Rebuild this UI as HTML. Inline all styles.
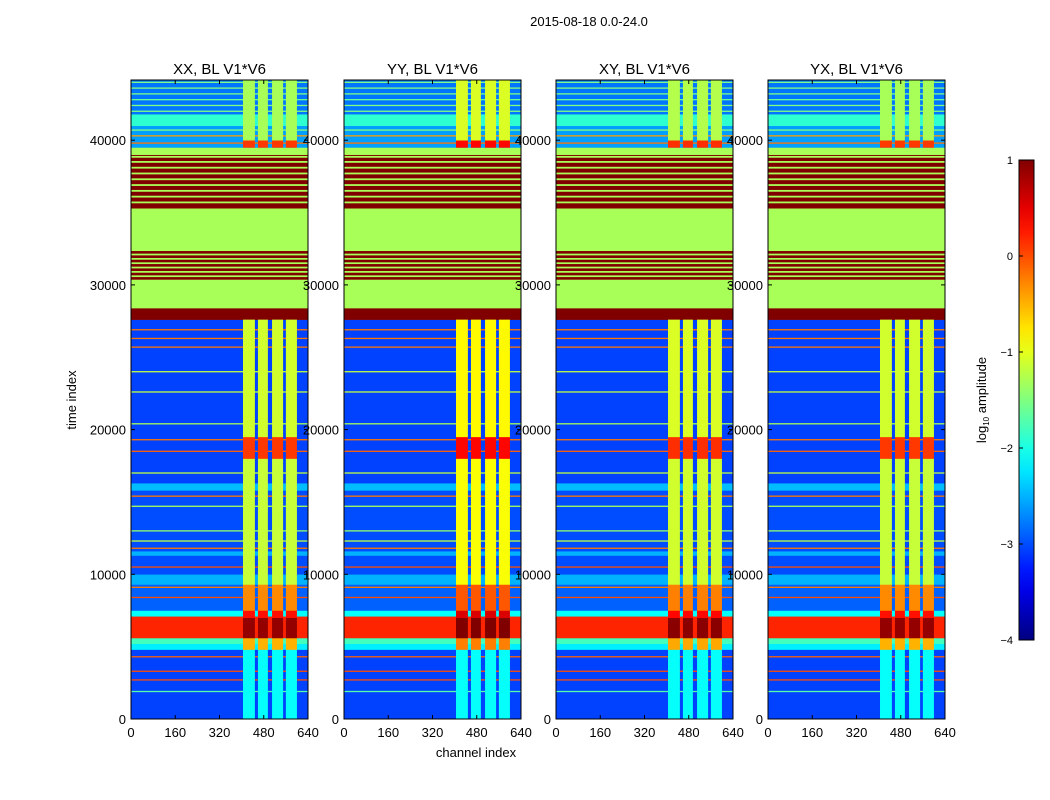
<!DOCTYPE html>
<html><head><meta charset="utf-8">
<style>
html,body{margin:0;padding:0;background:#fff;}
svg{display:block;font-family:"Liberation Sans",sans-serif;}
</style></head>
<body>
<svg id="fig" width="1050" height="800" viewBox="0 0 1050 800" xmlns="http://www.w3.org/2000/svg">
<rect width="1050" height="800" fill="#fff"/>
<text x="589" y="26" font-size="13" text-anchor="middle">2015-08-18 0.0-24.0</text>
<text x="76" y="400" font-size="13" text-anchor="middle" transform="rotate(-90 76 400)">time index</text>
<text x="476" y="757" font-size="13" text-anchor="middle">channel index</text>
<g id="panels"></g>
<g id="cbar"></g>
</svg>
<script>
// ---- data ----
const panelTitles = ["XX, BL V1*V6","YY, BL V1*V6","XY, BL V1*V6","YX, BL V1*V6"];
const panelSignalBoost = [0, 0.25, 0.05, 0.0];
const xTicks = [0,160,320,480,640];
const yTicks = [0,10000,20000,30000,40000];
const cbarTicks = [1,0,-1,-2,-3,-4];
// time bands spanning all channels: [start, end, log10 value]
const bandStart = [0,4800,5200,5600,7100,7500,9300,10000,11300,11600,15800,16300,27600,28400,30300,32400,35300,39000,39500,41000,41800];
const bandEnd   = [4800,5200,5600,7100,7500,9300,10000,11300,11600,15800,16300,27600,28400,30300,32400,35300,39000,39500,41000,41800,44160];
const bandValue = [-3.05,-2.2,-1.8,0.2,-2.1,-2.9,-2.5,-3.0,-2.5,-3.0,-2.45,-3.05,1.0,-1.3,-1.3,-1.3,1.0,-1.3,-2.6,-1.9,-2.8];
// thin lines / stripes
const lineTimes  = [1900,2700,3300,4300,8400,9100,10500,11800,12300,13000,14700,15400,17000,18500,19300,20400,22600,24000,25700,26300,26900,30450,30750,31050,31350,31650,31950,32250,35700,36100,36500,36900,37300,37700,38100,38500,38850,39800,40300,40700,42000,42400,42800,43200,43600,44000];
const lineValues = [-1.7,0.0,0.0,-0.1,0.0,-0.2,0.0,-0.2,-1.2,-1.4,-1.3,-0.2,-1.2,-0.1,-0.2,-1.3,-1.2,-1.2,-0.2,-0.2,-0.2,1.0,1.0,1.0,1.0,1.0,1.0,1.0,-1.3,-1.3,-1.3,-1.3,-1.3,-1.3,-1.3,-1.3,-1.3,-0.2,-0.4,-1.5,-1.5,-1.5,-1.6,-1.5,-1.5,-1.5];
// signal channel columns
const colStart = [405,459,510,560];
const colEnd   = [448,495,550,600];
// signal time ranges over columns
const sigStart = [0,4800,5600,7000,7500,9300,18000,19500,39500,40000];
const sigEnd   = [4800,5600,7000,7500,9300,18000,19500,27600,40000,44160];
const sigValue = [-2.1,-0.5,0.9,0.3,-0.3,-1.15,0.1,-1.1,0.1,-1.3];

// ---- helpers ----
function jet(v){
  let t=(v+4)/5; t=Math.max(0,Math.min(1,t));
  const f=x=>Math.max(0,Math.min(1,x));
  const r=f(1.5-Math.abs(4*t-3)), g=f(1.5-Math.abs(4*t-2)), b=f(1.5-Math.abs(4*t-1));
  return `rgb(${Math.round(r*255)},${Math.round(g*255)},${Math.round(b*255)})`;
}
const NS="http://www.w3.org/2000/svg";
function mk(tag,attrs,parent){const e=document.createElementNS(NS,tag);for(const k in attrs)e.setAttribute(k,attrs[k]);parent.appendChild(e);return e;}
const panelX=[131,344,556,768], pW=177, pTop=80, pBot=719, tMax=44160, cMax=640;
const panels=document.getElementById('panels');
panelX.forEach((x0,pi)=>{
  const g=mk('g',{},panels);
  
  
  const X=c=>x0+c/cMax*pW, Y=t=>pBot-t/tMax*(pBot-pTop);
  bandStart.forEach((s,i)=>{
    const r=mk('rect',{x:x0,y:Y(bandEnd[i]),width:pW,height:Y(s)-Y(bandEnd[i])+0.3,fill:jet(bandValue[i])},g);
    
    
  });
  lineTimes.forEach((t,i)=>{
    const h=lineValues[i]>=0.9?2.6:(lineValues[i]<=-1.25&&t>35000&&t<39000?1.8:1.3);
    const r=mk('rect',{x:x0,y:Y(t)-h/2,width:pW,height:h,fill:jet(lineValues[i])},g);
    
    
  });
  colStart.forEach((c,ci)=>{
    sigStart.forEach((s,i)=>{
      const v=sigValue[i]+(sigValue[i]>-1.5?panelSignalBoost[pi]:0);
      const r=mk('rect',{x:X(c),y:Y(sigEnd[i]),width:X(colEnd[ci])-X(c),height:Y(s)-Y(sigEnd[i])+0.3,fill:jet(v)},g);
      
      
    });
  });
  mk('rect',{x:x0,y:pTop,width:pW,height:pBot-pTop,fill:'none',stroke:'#000','stroke-width':1},g);
  const tt=mk('text',{x:x0+pW/2,y:74,'font-size':15,'text-anchor':'middle'},g);
  tt.textContent=panelTitles[pi];
  
  
  xTicks.forEach(c=>{
    mk('line',{x1:X(c),x2:X(c),y1:pBot,y2:pBot-4,stroke:'#000'},g);
    mk('line',{x1:X(c),x2:X(c),y1:pTop,y2:pTop+4,stroke:'#000'},g);
    const l=mk('text',{x:X(c),y:737,'font-size':13,'text-anchor':'middle'},g);
    l.textContent=c;
    
    
  });
  yTicks.forEach(t=>{
    mk('line',{x1:x0,x2:x0+4,y1:Y(t),y2:Y(t),stroke:'#000'},g);
    mk('line',{x1:x0+pW,x2:x0+pW-4,y1:Y(t),y2:Y(t),stroke:'#000'},g);
  });
});
panelX.forEach(x0=>{
  yTicks.forEach(t=>{
    const y=pBot-t/tMax*(pBot-pTop);
    const l=mk('text',{x:x0-5,y:y+5,'font-size':13,'text-anchor':'end'},panels);
    l.textContent=t;
    
    
  });
});
// colorbar
const cb=document.getElementById('cbar');
const cbX=1019,cbW=15,cbT=160,cbB=640;
const cbY=v=>cbB-(v+4)/5*(cbB-cbT);
const defs=mk('defs',{},cb);
const grad=mk('linearGradient',{id:'jetg',x1:0,y1:1,x2:0,y2:0},defs);
for(let i=0;i<=20;i++){const v=-4+5*i/20;mk('stop',{offset:i/20,'stop-color':jet(v)},grad);}
const cbr=mk('rect',{x:cbX,y:cbT,width:cbW,height:cbB-cbT,fill:'url(#jetg)',stroke:'#000','stroke-width':1},cb);


cbarTicks.forEach(v=>{
  mk('line',{x1:cbX,x2:cbX+4,y1:cbY(v),y2:cbY(v),stroke:'#000'},cb);
  const l=mk('text',{x:1013,y:cbY(v)+4,'font-size':11,'text-anchor':'end'},cb);
  l.textContent=v<0?'\u2212'+(-v):v;
  
  
});
const cl=mk('text',{x:986,y:400,'font-size':13,'text-anchor':'middle',transform:'rotate(-90 986 400)'},cb);
cl.innerHTML='log<tspan font-size="8" dy="3">10</tspan><tspan dy="-3"> amplitude</tspan>';


</script>
</body></html>
